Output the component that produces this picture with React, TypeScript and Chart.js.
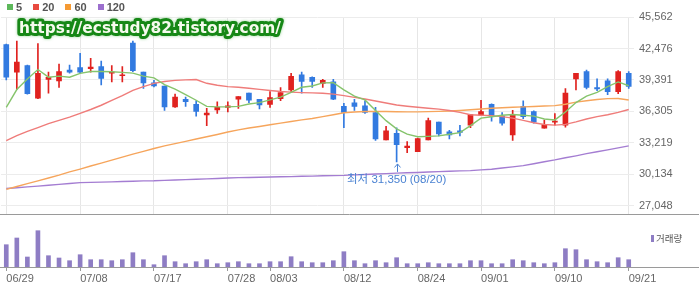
import React, { useEffect, useRef } from 'react';
import { Chart, registerables } from 'chart.js';

Chart.register(...registerables);

// ---------- data ----------
const DATES = [
  '06/29','06/30','07/01','07/02','07/03','07/06','07/07','07/08','07/09','07/10',
  '07/13','07/14','07/15','07/16','07/17','07/20','07/21','07/22','07/23','07/24',
  '07/27','07/28','07/29','07/30','07/31','08/03','08/04','08/05','08/06','08/07',
  '08/10','08/11','08/12','08/13','08/14','08/18','08/19','08/20','08/21','08/24',
  '08/25','08/26','08/27','08/28','08/31','09/01','09/02','09/03','09/04','09/07',
  '09/08','09/09','09/10','09/11','09/14','09/15','09/16','09/17','09/18','09/21',
];
const AXIS_DATES = ['06/29','07/08','07/17','07/28','08/03','08/12','08/24','09/01','09/10','09/21'];

const OPEN = [
  42850,40150,40800,37600,39450,39300,40350,40600,40500,40700,
  40050,39800,43000,40150,39100,38800,36750,37500,37000,35950,
  36450,36700,37500,38100,37500,37000,37550,38400,39900,39650,
  39050,39200,36800,37150,36850,36200,33500,34150,32750,32350,
  33500,35250,34300,34400,34950,35950,37000,35850,34000,36800,
  36300,34650,35250,34950,39500,40200,38650,39300,38250,40050,
];
const HIGH = [
  42900,43200,40850,42950,40150,40950,40850,42000,41500,41250,
  40800,40700,43200,40150,39350,38800,38000,37700,37350,36600,
  37250,37250,37750,38100,37500,38250,38650,40050,40150,39700,
  39450,39450,37100,37500,37350,36700,34850,34700,33350,33700,
  35650,35250,34450,34950,36000,37400,37050,36200,36400,37350,
  36350,35450,36100,38550,40050,40350,39500,39500,40300,40200,
];
const LOW = [
  39400,38450,38000,37550,38100,38650,40050,40050,40150,38900,
  39200,39200,40200,38550,38700,36400,36700,36800,35850,34900,
  36100,36250,36600,37150,36550,36700,37350,38250,38100,38650,
  38650,37450,34700,36400,36100,33450,33500,31350,32250,32350,
  33500,33900,33600,33900,34700,35900,35350,34950,33450,35600,
  35150,34650,34950,34750,38400,38500,38350,37950,38050,38550,
];
const CLOSE = [
  39650,41150,38050,40050,39650,40200,40150,40150,40650,39550,
  40150,39900,40300,39100,38800,36750,37700,37250,36300,36150,
  36700,36850,37750,37400,36950,37650,38150,39750,39250,39250,
  39350,37500,36200,36800,36200,33600,34400,33050,32900,33650,
  35400,34100,34000,34250,36000,36300,35850,35150,35950,35800,
  35250,35000,35350,38100,40050,38650,38500,38250,40200,38750,
];
const VOLUME = [
  446,580,200,726,226,180,126,246,146,146,
  126,146,286,146,46,226,106,66,106,146,
  66,86,106,66,66,106,106,206,106,86,
  86,126,306,126,66,126,86,186,66,66,
  86,66,66,66,126,126,66,66,146,126,
  86,66,86,366,346,146,106,86,186,146,
];
const MA5 = [
  36700,38450,39480,40410,39660,39760,39660,40040,40220,40220,
  40190,40130,40060,39760,39600,38940,38480,37960,37400,36800,
  36750,36750,36800,37030,37170,37430,37710,38170,38670,38800,
  39100,39130,38420,37800,37430,36400,35400,34600,34070,33820,
  33860,33910,34070,34230,34910,35650,35780,35930,36000,35930,
  35840,35560,35470,36240,37170,37800,38170,38730,39200,38820,
];
const MA20 = [
  33450,33930,34350,34720,35100,35420,35750,36120,36490,36910,
  37380,37850,38360,38730,39060,39240,39350,39400,39430,39060,
  38870,38730,38670,38570,38470,38360,38260,38200,38150,38120,
  38080,38000,37850,37680,37520,37330,37130,36930,36810,36710,
  36610,36530,36400,36210,35980,35930,35890,35790,35650,35420,
  35190,35020,34960,35030,35280,35560,35790,35980,36210,36490,
];
const MA60 = [
  28660,28940,29220,29500,29780,30060,30370,30650,30950,31230,
  31530,31820,32110,32390,32670,32920,33140,33370,33600,33820,
  34040,34280,34490,34680,34830,35000,35160,35310,35470,35610,
  35790,35980,36170,36250,36300,36310,36290,36270,36260,36260,
  36280,36310,36340,36400,36470,36540,36610,36660,36710,36750,
  36790,36830,36870,37010,37220,37350,37470,37560,37570,37430,
];
const MA120 = [
  28740,28820,28900,28980,29070,29150,29230,29320,29350,29370,
  29400,29430,29460,29490,29500,29540,29580,29620,29650,29690,
  29730,29770,29810,29830,29850,29870,29900,29910,29940,29960,
  29990,30010,30030,30080,30120,30170,30200,30250,30290,30320,
  30360,30400,30440,30470,30500,30570,30640,30760,30870,30990,
  31170,31370,31550,31760,31950,32160,32350,32530,32730,32920,
];
const Y_TICKS = [27048, 30134, 33219, 36305, 39391, 42476, 45562];
const Y_MIN = 26206;
const Y_MAX = 45562;
const VOL_MAX = 820;
const MA_LABELS = ['5', '20', '60', '120'];

// ---------- styles ----------
const UP_COLOR = '#e0221f';
const DOWN_COLOR = '#327ae0';
const MA_LINE_COLORS = ['#86c46c', '#ef7c7a', '#f6a55c', '#a47dd2'];
const MA_LEGEND_COLORS = ['#5db85b', '#e84a3f', '#f59a33', '#9c6fce'];
const VOL_COLOR = '#8e7dc4';
const FONT = '"Liberation Sans", Arial, sans-serif';

const AXIS_IDX = new Set(AXIS_DATES.map((d) => DATES.indexOf(d)));

const separatorPlugin = {
  id: 'separator',
  afterDraw(chart: any) {
    const { ctx, chartArea } = chart;
    ctx.save();
    ctx.strokeStyle = '#9a9a9a';
    ctx.lineWidth = 1;
    const yy = Math.round(chartArea.bottom) + 0.5;
    ctx.beginPath();
    ctx.moveTo(0, yy);
    ctx.lineTo(chart.width, yy);
    ctx.stroke();
    ctx.restore();
  },
};

const lowLabelPlugin = {
  id: 'lowLabel',
  afterDatasetsDraw(chart: any) {
    const { ctx, scales } = chart;
    let idx = 0;
    LOW.forEach((v, i) => { if (v < LOW[idx]) idx = i; });
    const px = scales.x.getPixelForValue(idx);
    const py = scales.y.getPixelForValue(LOW[idx]);
    const cx = Math.round(px) + 0.5;
    ctx.save();
    ctx.strokeStyle = '#4a82d2';
    ctx.lineWidth = 1;
    ctx.beginPath();
    ctx.moveTo(cx, py + 2);
    ctx.lineTo(cx, py + 10);
    ctx.moveTo(cx - 3, py + 5.5);
    ctx.lineTo(cx, py + 2);
    ctx.lineTo(cx + 3, py + 5.5);
    ctx.stroke();
    ctx.fillStyle = '#4a82d2';
    ctx.font = '11.5px "Liberation Sans", "Noto Sans CJK KR", sans-serif';
    ctx.textAlign = 'center';
    ctx.textBaseline = 'middle';
    ctx.fillText(`최저 ${LOW[idx].toLocaleString('en-US')} (${DATES[idx]})`, px, py + 18);
    ctx.restore();
  },
};

export default function App() {
  const priceRef = useRef<HTMLCanvasElement>(null);
  const volRef = useRef<HTMLCanvasElement>(null);

  useEffect(() => {
    Chart.defaults.font.family = FONT;
    const candleColors = CLOSE.map((c, i) => (c >= OPEN[i] ? UP_COLOR : DOWN_COLOR));
    const maSeries = [MA5, MA20, MA60, MA120];

    const price = new Chart(priceRef.current as HTMLCanvasElement, {
      type: 'bar',
      data: {
        labels: DATES,
        datasets: [
          ...maSeries.map((s, k) => ({
            type: 'line' as const,
            label: MA_LABELS[k],
            data: s,
            borderColor: MA_LINE_COLORS[k],
            borderWidth: 1.4,
            pointRadius: 0,
            tension: 0,
            fill: false,
            order: 0,
          })),
          {
            type: 'bar' as const,
            label: 'body',
            data: OPEN.map((o, i) => [o, CLOSE[i]]),
            backgroundColor: candleColors,
            barThickness: 5,
            grouped: false,
            minBarLength: 1,
            order: 1,
          },
          {
            type: 'bar' as const,
            label: 'wick',
            data: LOW.map((l, i) => [l, HIGH[i]]),
            backgroundColor: candleColors,
            barThickness: 1,
            grouped: false,
            order: 2,
          },
        ] as any,
      },
      options: {
        responsive: false,
        animation: false,
        devicePixelRatio: 1,
        layout: { padding: { top: 17, bottom: 2, left: 1, right: 0 } },
        plugins: { legend: { display: false }, tooltip: { enabled: false } },
        scales: {
          x: {
            type: 'category',
            offset: true,
            grid: {
              offset: false,
              drawTicks: false,
              color: (c: any) => (AXIS_IDX.has(c.index) ? '#e6e6e6' : 'rgba(0,0,0,0)'),
            },
            border: { display: false },
            ticks: { display: false },
          },
          y: {
            position: 'right',
            min: Y_MIN,
            max: Y_MAX,
            afterBuildTicks: (s: any) => { s.ticks = Y_TICKS.map((v) => ({ value: v })); },
            afterFit: (s: any) => { s.width = 65; },
            grid: { color: '#ececec', drawTicks: false },
            border: { display: false },
            ticks: {
              padding: 5,
              color: '#666',
              font: { family: FONT, size: 11 },
              callback: (v: any) => Number(v).toLocaleString('en-US'),
            },
          },
        },
      } as any,
      plugins: [separatorPlugin, lowLabelPlugin],
    });

    const vol = new Chart(volRef.current as HTMLCanvasElement, {
      type: 'bar',
      data: {
        labels: DATES,
        datasets: [{ label: '거래량', data: VOLUME, backgroundColor: VOL_COLOR, barThickness: 4 }],
      },
      options: {
        responsive: false,
        animation: false,
        devicePixelRatio: 1,
        layout: { padding: { top: 0, left: 1, right: 65, bottom: 0 } },
        plugins: { legend: { display: false }, tooltip: { enabled: false } },
        scales: {
          x: {
            offset: true,
            afterFit: (s: any) => { s.height = 21; },
            grid: {
              offset: false,
              drawOnChartArea: false,
              drawTicks: true,
              tickLength: 4,
              tickColor: (c: any) => (AXIS_IDX.has(c.index) ? '#999' : 'rgba(0,0,0,0)'),
            },
            border: { display: false },
            ticks: {
              autoSkip: false,
              maxRotation: 0,
              minRotation: 0,
              align: 'start',
              padding: 1,
              color: '#666',
              font: { family: FONT, size: 11 },
              callback: (_v: any, i: number) => (AXIS_IDX.has(i) ? DATES[i] : ''),
            },
          },
          y: { display: false, min: 0, max: VOL_MAX },
        },
      } as any,
      plugins: [separatorPlugin],
    });

    return () => {
      price.destroy();
      vol.destroy();
    };
  }, []);

  return (
    <div style={{ position: 'absolute', left: 0, top: 0, width: 699, height: 288, background: '#fff', overflow: 'hidden' }}>
      <canvas ref={priceRef} width={699} height={226} style={{ position: 'absolute', left: 0, top: 0 }} />
      <canvas ref={volRef} width={699} height={62} style={{ position: 'absolute', left: 0, top: 226 }} />
      <div style={{ position: 'absolute', left: 7, top: 0, height: 13, display: 'flex', alignItems: 'center', font: `bold 11px ${FONT}`, color: '#555' }}>
        {MA_LABELS.map((l, k) => (
          <div key={l} style={{ display: 'flex', alignItems: 'center', marginRight: 11 }}>
            <span style={{ display: 'inline-block', width: 6, height: 6, background: MA_LEGEND_COLORS[k], marginRight: 3 }} />
            <span>{l}</span>
          </div>
        ))}
      </div>
      <svg width={699} height={60} style={{ position: 'absolute', left: 0, top: 0, overflow: 'visible' }}>
        <defs>
          <filter id="wmglow" x="-10%" y="-60%" width="120%" height="220%">
            <feGaussianBlur in="SourceAlpha" stdDeviation="1.6" result="b" />
            <feFlood floodColor="#6fc56f" floodOpacity="0.7" />
            <feComposite in2="b" operator="in" result="g" />
            <feMerge>
              <feMergeNode in="g" />
              <feMergeNode in="SourceGraphic" />
            </feMerge>
          </filter>
        </defs>
        <text
          x={19}
          y={33}
          textLength={262}
          lengthAdjust="spacingAndGlyphs"
          fontFamily="DejaVu Sans"
          fontWeight="bold"
          fontSize={15.5}
          fill="#f6fbee"
          stroke="#168816"
          strokeWidth={6}
          strokeLinejoin="round"
          paintOrder="stroke"
          filter="url(#wmglow)"
        >
          https://ecstudy82.tistory.com/
        </text>
      </svg>
      <div style={{ position: 'absolute', left: 651, top: 232, height: 12, display: 'flex', alignItems: 'center', font: `9.5px "Noto Sans CJK KR", ${FONT}`, color: '#555' }}>
        <span style={{ display: 'inline-block', width: 3, height: 7, background: VOL_COLOR, marginRight: 2 }} />
        <span>거래량</span>
      </div>
    </div>
  );
}
